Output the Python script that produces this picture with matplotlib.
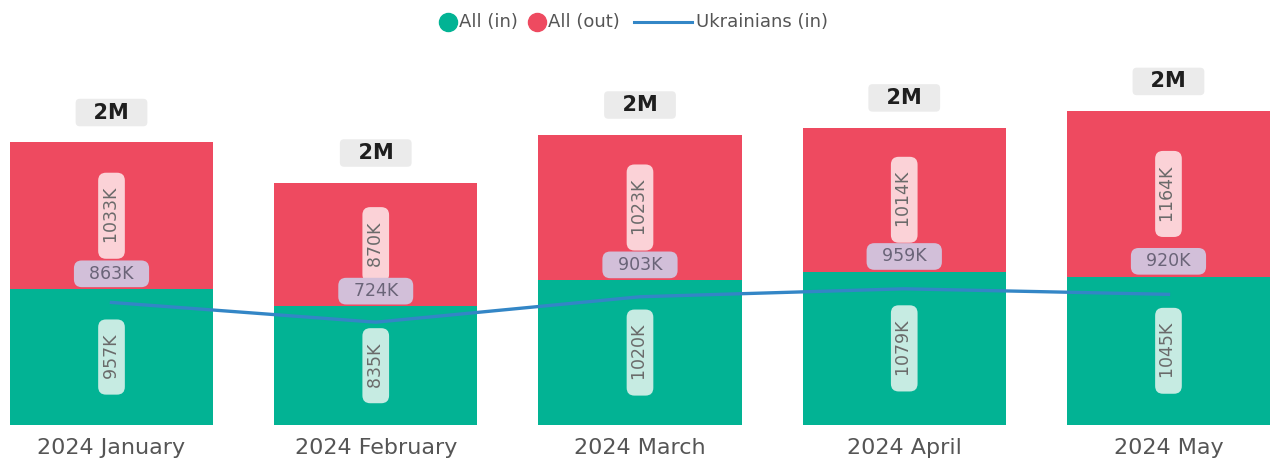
import numpy as np
import matplotlib
matplotlib.use("Agg")
import matplotlib.pyplot as plt
from matplotlib.lines import Line2D

months = ["2024 January", "2024 February", "2024 March", "2024 April", "2024 May"]
all_in = [957, 835, 1020, 1079, 1045]      # thousands
all_out = [1033, 870, 1023, 1014, 1164]    # thousands
ukr_in = [863, 724, 903, 959, 920]         # thousands

green = "#02b394"
red = "#ee4a60"
blue = "#3386c6"
grey_txt = "#6a6a6a"

fig = plt.figure(figsize=(12.71, 4.59), dpi=100)
ax = fig.add_axes([0, 34 / 459, 1, 385 / 459])

x = np.arange(len(months))
w = 0.77
ax.bar(x, all_in, width=w, color=green, zorder=2)
ax.bar(x, all_out, width=w, bottom=all_in, color=red, zorder=2)
ax.plot(x, ukr_in, color=blue, lw=2.4, zorder=3)

tot = np.array(all_in) + np.array(all_out)
box = "round,pad=0.25,rounding_size=0.45"
for i in range(len(x)):
    ax.text(x[i], all_in[i] / 2, f"  {all_in[i]}K  ", rotation=90, ha="center", va="center",
            fontsize=12.5, color=grey_txt, zorder=5,
            bbox=dict(boxstyle=box, fc="#c6ebe2", ec="none"))
    ax.text(x[i], all_in[i] + all_out[i] / 2, f"  {all_out[i]}K  ", rotation=90, ha="center",
            va="center", fontsize=12.5, color=grey_txt, zorder=5,
            bbox=dict(boxstyle=box, fc="#fbd2d7", ec="none"))
    ax.annotate(f"  {ukr_in[i]}K  ", (x[i], all_in[i]), xytext=(0, 11), textcoords="offset points",
                ha="center", va="center", fontsize=12.5, color="#6a6478", zorder=6,
                bbox=dict(boxstyle=box, fc="#d2bfd9", ec="none"))
    ax.annotate(f"  {round(tot[i] / 1000)}M  ", (x[i], tot[i]), xytext=(0, 21.5),
                textcoords="offset points", ha="center", va="center", fontsize=15,
                fontweight="bold", color="#1e1e1e",
                bbox=dict(boxstyle="round,pad=0.18,rounding_size=0.2", fc="#ebebeb", ec="none"))

ax.set_xlim(-0.422, 4.388)
ax.set_ylim(0, 2711)
ax.set_xticks(x)
ax.set_xticklabels(months, fontsize=16, color="#555555")
ax.tick_params(axis="x", length=0, pad=9)
ax.set_yticks([])
for s in ax.spines.values():
    s.set_visible(False)

# legend drawn by hand so the line handle can be longer than the dots
fig.canvas.draw()
r = fig.canvas.get_renderer()
W, H = fig.bbox.width, fig.bbox.height
ly = 1 - 22 / H
fs = 13
parts = [("dot", green), ("txt", "All (in)"), ("gap", 6), ("dot", red), ("txt", "All (out)"),
         ("gap", 8), ("line", blue), ("txt", "Ukrainians (in)")]
widths = []
for kind, v in parts:
    if kind == "dot":
        widths.append(20)
    elif kind == "line":
        widths.append(64)
    elif kind == "gap":
        widths.append(v)
    else:
        t = fig.text(0, 0, v, fontsize=fs)
        widths.append(t.get_window_extent(r).width + 4)
        t.remove()
px = (W - sum(widths)) / 2
for (kind, v), wd in zip(parts, widths):
    if kind == "dot":
        fig.add_artist(Line2D([(px + 9) / W], [ly], marker="o", ls="none", color=v,
                              markersize=13, transform=fig.transFigure))
    elif kind == "line":
        fig.add_artist(Line2D([(px + 2) / W, (px + wd - 4) / W], [ly, ly], color=v, lw=2.2,
                              transform=fig.transFigure))
    elif kind == "txt":
        fig.text(px / W, ly, v, fontsize=fs, color="#555555", va="center", ha="left")
    px += wd

fig.savefig("out.png", dpi=100)
